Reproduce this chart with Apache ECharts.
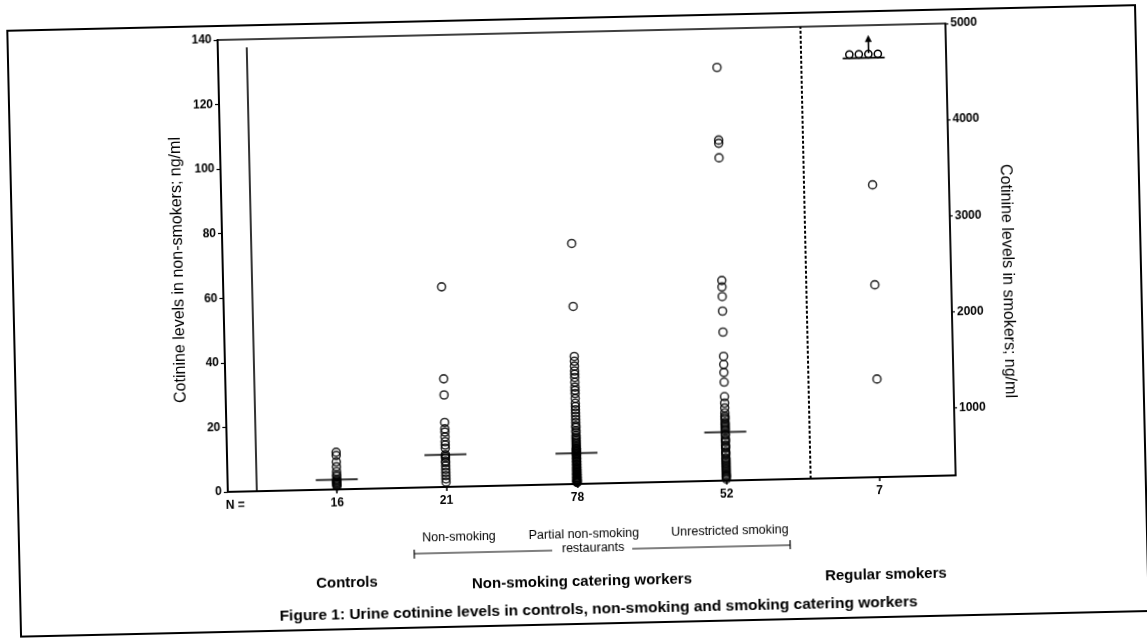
<!DOCTYPE html>
<html>
<head>
<meta charset="utf-8">
<title>Urine cotinine levels</title>
<script src="https://cdn.jsdelivr.net/npm/echarts@6/dist/echarts.min.js"></script>
<style>
  html, body { margin: 0; padding: 0; background: #fff; overflow: hidden; }
  /* the source is a slightly crooked scan */
  #chart { width: 1147px; height: 639px; transform: rotate(-1.3deg); }
</style>
</head>
<body>
<div id="chart"></div>
<script>
// columns along the bottom, N = count in each
const groupN = ['16', '21', '78', '52', '7']
const groupX = [15, 30, 48, 68.5, 89.5]   // column places on the hidden 0-100 x scale
const dividerX = 80        // dashed line, non-smokers | smokers
const leftLineX = 4

// cotinine in non-smokers, ng/ml (left axis)
const controls = [11.5, 10.5, 8.5, 7, 5.5, 4.5, 4, 3, 3, 2.5, 2.5, 2, 2, 1.5, 1.5, 1]
const nonSmoking = [62, 33.5, 28.5, 20, 18, 17, 15.5, 14, 13, 12, 10, 9.5, 9, 8, 7.5, 6.5, 5.5, 4.5, 3.5, 2.5, 1.5]
const partialNonSmoking = [74.5, 55, 39.5, 38, 36.5, 35, 34, 33, 31.5, 30, 29, 28, 26.5, 25, 24, 23, 22, 21, 20, 19,
  18, 17.5, 16.5, 16, 15, 14.5, 14, 13.5, 13, 12.5, 12, 11.5, 11, 11, 10.5, 10.5, 10, 10, 9.5, 9.5,
  9, 9, 8.5, 8, 8, 7.5, 7, 7, 6.5, 6, 6, 5.5, 5, 5, 4.5, 4.5, 4, 4, 3.5, 3.5,
  3, 3, 3, 2.5, 2.5, 2, 2, 2, 1.5, 1.5, 1.5, 1, 1, 1, 0.8, 0.8, 0.5, 0.5]
const unrestrictedSmoking = [128, 105.5, 104.5, 100, 62, 60, 57, 52.5, 46, 38.5, 36, 33.5, 30.5, 26, 24, 22.5, 21,
  20, 19.5, 19, 18, 17.5, 17, 16.5, 16, 15.5, 14.5, 14, 13, 12.5, 12, 11, 10.5, 10, 9, 8.5,
  8, 7, 6.5, 6, 5.5, 5, 4.5, 4, 3.5, 3, 2.5, 2, 1.5, 1.5, 1, 0.5]

// regular smokers, ng/ml (right axis)
const smokers = [3340, 2300, 1320]
const smokersOffScale = 4      // above the top of the scale, shown with the arrow
const offScaleLevel = 4700

const leftTicks = { min: 0, max: 140, step: 20 }
const rightTicks = [1000, 2000, 3000, 4000, 5000]

const FONT = '"Liberation Sans", Arial, sans-serif'
const nonSmokerCols = [controls, nonSmoking, partialNonSmoking, unrestrictedSmoking]

const median = function (arr) {
  const s = arr.slice().sort((a, b) => a - b), m = s.length >> 1
  return s.length % 2 ? s[m] : (s[m - 1] + s[m]) / 2
}

const chart = echarts.init(document.getElementById('chart'), null, { renderer: 'canvas' })

const hollow = { color: 'rgba(255,255,255,0)', borderColor: '#000', borderWidth: 1.6 }
const txt = function (text, x, y, size, weight, extra) {
  return Object.assign({
    type: 'text', x: x, y: y, silent: true,
    style: { text: text, fontFamily: FONT, fontSize: size, fontWeight: weight || 'normal',
      fill: '#000', align: 'center', verticalAlign: 'middle' }
  }, extra || {})
}
const seg = function (x1, y1, x2, y2, w) {
  return { type: 'line', silent: true, shape: { x1: x1, y1: y1, x2: x2, y2: y2 },
    style: { stroke: '#000', lineWidth: w || 1.2 } }
}

chart.setOption({
  animation: false,
  backgroundColor: '#fff',
  grid: { left: 224, top: 32, width: 728, height: 452, show: true,
    borderColor: '#000', borderWidth: 1.5, backgroundColor: 'transparent' },
  xAxis: {
    type: 'value', min: 0, max: 100,
    axisLine: { show: true, lineStyle: { color: '#000', width: 2 } },
    axisTick: { show: true, customValues: groupX, length: 4, lineStyle: { color: '#000', width: 1.5 } },
    axisLabel: {
      customValues: [1].concat(groupX), margin: 8,
      color: '#000', fontFamily: FONT, fontSize: 12, fontWeight: 'bold',
      formatter: v => v === 1 ? 'N =' : groupN[groupX.indexOf(v)]
    },
    splitLine: { show: false }
  },
  yAxis: [{
    type: 'value', position: 'left',
    min: leftTicks.min, max: leftTicks.max, interval: leftTicks.step,
    axisLine: { show: true, lineStyle: { color: '#000', width: 2 } },
    axisTick: { show: true, length: 4, lineStyle: { color: '#000', width: 1.2 } },
    axisLabel: { margin: 6, color: '#000', fontFamily: FONT, fontSize: 12, fontWeight: 'bold' },
    splitLine: { show: false }
  }, {
    type: 'value', position: 'right', min: 300, max: 5000,
    axisLine: { show: true, lineStyle: { color: '#000', width: 1.5 } },
    axisTick: { show: true, customValues: rightTicks, length: 3, lineStyle: { color: '#000', width: 1.2 } },
    axisLabel: { customValues: rightTicks, margin: 5, color: '#000', fontFamily: FONT, fontSize: 12, fontWeight: 'bold',
      formatter: v => String(v) },
    splitLine: { show: false }
  }],
  series: [{
    name: 'non-smokers', type: 'scatter', yAxisIndex: 0,
    symbol: 'circle', symbolSize: 8, itemStyle: hollow,
    data: nonSmokerCols.flatMap((vals, i) => vals.map(v => [groupX[i], v])),
    markLine: {
      silent: true, symbol: 'none', label: { show: false },
      data: [
        { xAxis: dividerX, lineStyle: { color: '#000', type: [3, 2], width: 2 } },
        [{ coord: [leftLineX, 0] }, { coord: [leftLineX, 137.5], lineStyle: { color: '#000', type: 'solid', width: 1.6 } }]
      ]
    }
  }, {
    name: 'smokers', type: 'scatter', yAxisIndex: 1,
    symbol: 'circle', symbolSize: 8, itemStyle: hollow,
    data: smokers.map(v => [groupX[4], v])
  }, {
    name: 'median', type: 'scatter', yAxisIndex: 0, z: 5,
    symbol: 'rect', symbolSize: [42, 2], itemStyle: { color: '#000' },
    data: nonSmokerCols.map((vals, i) => [groupX[i], median(vals)])
  }, {
    name: 'off scale', type: 'custom', yAxisIndex: 1, z: 5,
    data: [[groupX[4], offScaleLevel, smokersOffScale]],
    renderItem: function (params, api) {
      const p = api.coord([api.value(0), api.value(1)]), n = api.value(2)
      const cx = p[0] - 6, cy = p[1], kids = []
      for (let k = 0; k < n; k++) {
        kids.push({ type: 'circle', shape: { cx: cx + (k - (n - 1) / 2) * 9.5, cy: cy, r: 3.6 },
          style: { fill: 'none', stroke: '#000', lineWidth: 1.5 } })
      }
      kids.push({ type: 'line', shape: { x1: cx - 21, y1: cy + 3.8, x2: cx + 21, y2: cy + 3.8 }, style: { stroke: '#000', lineWidth: 1.6 } })
      kids.push({ type: 'line', shape: { x1: cx + 5, y1: cy - 1, x2: cx + 5, y2: cy - 15 }, style: { stroke: '#000', lineWidth: 1.6 } })
      kids.push({ type: 'polygon', shape: { points: [[cx + 5, cy - 19], [cx + 1.5, cy - 12], [cx + 8.5, cy - 12]] }, style: { fill: '#000' } })
      return { type: 'group', children: kids }
    }
  }],
  graphic: [
    { type: 'rect', silent: true, shape: { x: 14, y: 18, width: 1128, height: 606 },
      style: { fill: 'none', stroke: '#000', lineWidth: 2 } },
    txt('Cotinine levels in non-smokers; ng/ml', 180, 261, 16, 'normal', { rotation: Math.PI / 2 }),
    txt('Cotinine levels in smokers; ng/ml', 1008, 291, 16, 'normal', { rotation: -Math.PI / 2 }),
    txt('Non-smoking', 454, 535, 12.5),
    txt('Partial non-smoking', 579, 535, 12.5),
    txt('restaurants', 588, 549, 12.5),
    txt('Unrestricted smoking', 725, 535, 12.5),
    seg(409, 550, 547, 550), seg(627, 550, 785, 550),
    seg(409, 546, 409, 555), seg(785, 545, 785, 554),
    txt('Controls', 341, 578, 15, 'bold'),
    txt('Non-smoking catering workers', 576, 582, 15, 'bold'),
    txt('Regular smokers', 880, 582, 15, 'bold'),
    txt('Figure 1: Urine cotinine levels in controls, non-smoking and smoking catering workers', 592, 610, 15.5, 'bold')
  ]
})
</script>
</body>
</html>
